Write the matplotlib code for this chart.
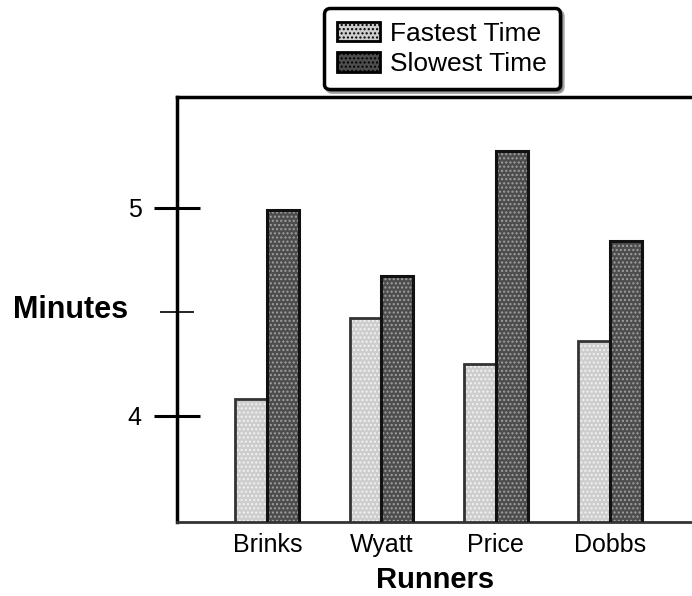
import numpy as np
import matplotlib.pyplot as plt

# values (minutes)
runners = ['Brinks', 'Wyatt', 'Price', 'Dobbs']
fastest = [4.08, 4.47, 4.25, 4.36]
slowest = [4.99, 4.67, 5.27, 4.84]

plt.rcParams['font.family'] = ['Liberation Sans', 'DejaVu Sans']

fig = plt.figure(figsize=(6.92, 5.96), dpi=100)
ax = fig.add_axes([0.256, 0.124, 0.744, 0.713])

x = np.arange(len(runners))
w = 0.28

# hatch pass (edgecolor drives hatch colour), then outline pass
ax.bar(x - w/2, fastest, w, color='#cdcdcd', edgecolor='#f2f2f2',
       hatch='....', linewidth=0, label='Fastest Time', zorder=2)
ax.bar(x + w/2, slowest, w, color='#4d4d4d', edgecolor='#a0a0a0',
       hatch='....', linewidth=0, label='Slowest Time', zorder=2)
ax.bar(x - w/2, fastest, w, fill=False, edgecolor='#333333', linewidth=2, zorder=3)
ax.bar(x + w/2, slowest, w, fill=False, edgecolor='#111111', linewidth=2.2, zorder=3)

ax.set_xlim(-0.79, 3.72)
ax.set_ylim(3.49, 5.53)

ax.set_yticks([4, 5])
ax.set_yticklabels(['4', '5'], fontsize=18)
ax.set_yticks([4.5], minor=True)
ax.tick_params(axis='y', which='major', direction='inout', length=33, width=2.2, pad=9)
ax.tick_params(axis='y', which='minor', direction='inout', length=24, width=1.2)

ax.set_xticks(x)
ax.set_xticklabels(runners, fontsize=18)
ax.tick_params(axis='x', length=0, pad=8)

ax.spines['right'].set_visible(False)
ax.spines['left'].set_linewidth(2.5)
ax.spines['top'].set_linewidth(2.5)
ax.spines['bottom'].set_linewidth(2)
ax.spines['bottom'].set_color('#333333')

ax.set_xlabel('Runners', fontsize=21, fontweight='bold', labelpad=6)
ax.set_ylabel('Minutes', fontsize=22, fontweight='bold', rotation=0, ha='right', va='center')
ax.yaxis.set_label_coords(-0.095, 0.5)

leg = fig.legend(loc='center', bbox_to_anchor=(0.639, 0.918), fontsize=19,
                 fancybox=True, shadow=True, handlelength=1.6, handleheight=0.75,
                 labelspacing=0.25, borderpad=0.5, handletextpad=0.4, framealpha=1)
leg.get_frame().set_edgecolor('black')
leg.get_frame().set_linewidth(2.5)
for h in leg.legend_handles:
    h.set_edgecolor('black')
    h.set_linewidth(2)

fig.savefig('out.png', dpi=100)
